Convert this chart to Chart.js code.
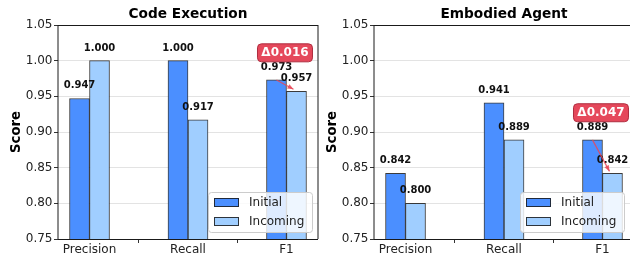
<!DOCTYPE html>
<html>
<head>
<meta charset="utf-8">
<script src="https://cdn.jsdelivr.net/npm/chart.js@4.4.1/dist/chart.umd.min.js"></script>
<style>
  html, body { margin: 0; padding: 0; background: #ffffff; }
  #wrap { position: relative; width: 630px; height: 260px; overflow: hidden; background: #ffffff; }
  canvas { position: absolute; top: 0; }
  #c1 { left: 0px; }
  #c2 { left: 316px; }
</style>
</head>
<body>
<div id="wrap">
  <canvas id="c1" width="320" height="260"></canvas>
  <canvas id="c2" width="320" height="260"></canvas>
</div>
<script>
// ---- data ----
const categories = ['Precision', 'Recall', 'F1'];
const seriesNames = ['Initial', 'Incoming'];
const codeInitial = [0.947, 1.000, 0.973];
const codeIncoming = [1.000, 0.917, 0.957];
const agentInitial = [0.842, 0.941, 0.889];
const agentIncoming = [0.800, 0.889, 0.842];
const yTicks = [0.75, 0.80, 0.85, 0.90, 0.95, 1.00, 1.05];
const titles = ['Code Execution', 'Embodied Agent'];
const yTitle = 'Score';
const annotateIndex = 2; // F1

// ---- style ----
const FONT = "'DejaVu Sans', 'Liberation Sans', sans-serif";
const C_INIT = 'rgb(75,143,255)';
const C_INC = 'rgb(160,206,255)';
const C_EDGE = 'rgba(25,25,25,0.85)';

Chart.defaults.font.family = FONT;
Chart.defaults.color = '#222';

function roundRectPath(ctx, x, y, w, h, r) {
  ctx.beginPath();
  ctx.moveTo(x + r, y);
  ctx.lineTo(x + w - r, y);
  ctx.quadraticCurveTo(x + w, y, x + w, y + r);
  ctx.lineTo(x + w, y + h - r);
  ctx.quadraticCurveTo(x + w, y + h, x + w - r, y + h);
  ctx.lineTo(x + r, y + h);
  ctx.quadraticCurveTo(x, y + h, x, y + h - r);
  ctx.lineTo(x, y + r);
  ctx.quadraticCurveTo(x, y, x + r, y);
  ctx.closePath();
}

const decor = {
  id: 'decor',
  afterDatasetsDraw(chart, args, opts) {
    const ctx = chart.ctx;
    const a = chart.chartArea;
    const ys = chart.scales.y;
    ctx.save();
    // spines
    ctx.strokeStyle = '#1a1a1a';
    ctx.lineWidth = 1;
    ctx.beginPath();
    ctx.moveTo(a.left, a.top + 0.5); ctx.lineTo(a.right, a.top + 0.5);
    ctx.moveTo(a.left, a.bottom + 0.5); ctx.lineTo(a.right, a.bottom + 0.5);
    ctx.moveTo(a.left, a.top); ctx.lineTo(a.left, a.bottom);
    ctx.moveTo(a.right, a.top); ctx.lineTo(a.right, a.bottom);
    ctx.stroke();

    // title
    ctx.fillStyle = '#000';
    ctx.font = "bold 13.7px " + FONT;
    ctx.textAlign = 'center';
    ctx.textBaseline = 'alphabetic';
    ctx.fillText(opts.title, (a.left + a.right) / 2, 17.5);

    // y title
    ctx.save();
    ctx.translate(a.left - 38.5, (a.top + a.bottom) / 2);
    ctx.rotate(-Math.PI / 2);
    ctx.font = "bold 13.2px " + FONT;
    ctx.fillText(yTitle, 0, 0);
    ctx.restore();

    // value labels
    ctx.font = "bold 10px " + FONT;
    ctx.fillStyle = '#111';
    chart.data.datasets.forEach((ds, di) => {
      const meta = chart.getDatasetMeta(di);
      meta.data.forEach((el, i) => {
        ctx.fillText(ds.data[i].y.toFixed(3), el.x, el.y - 10);
      });
    });

    // legend
    const lw = 104, lh = 40;
    const lx = a.right - opts.legendPad - lw;
    const ly = a.bottom - 47;
    ctx.fillStyle = 'rgba(255,255,255,0.82)';
    ctx.strokeStyle = '#cccccc';
    ctx.lineWidth = 1;
    roundRectPath(ctx, lx + 0.5, ly + 0.5, lw, lh, 3);
    ctx.fill();
    ctx.stroke();
    const cols = [C_INIT, C_INC];
    seriesNames.forEach((name, k) => {
      const py = ly + 6 + k * 19;
      ctx.fillStyle = cols[k];
      ctx.fillRect(lx + 6, py, 25, 9);
      ctx.strokeStyle = C_EDGE;
      ctx.strokeRect(lx + 6.5, py + 0.5, 24, 8);
      ctx.fillStyle = '#222';
      ctx.font = "12px " + FONT;
      ctx.textAlign = 'left';
      ctx.textBaseline = 'middle';
      ctx.fillText(name, lx + 41, py + 5);
    });

    // delta annotation
    const m0 = chart.getDatasetMeta(0).data[annotateIndex];
    const m1 = chart.getDatasetMeta(1).data[annotateIndex];
    const v0 = chart.data.datasets[0].data[annotateIndex].y;
    const v1 = chart.data.datasets[1].data[annotateIndex].y;
    const delta = v0 - v1;
    // arrow
    const x0 = m0.x, y0 = m0.y, x1 = m1.x - 3, y1 = m1.y - 2;
    ctx.strokeStyle = 'rgba(232,72,88,0.85)';
    ctx.fillStyle = 'rgba(232,72,88,0.85)';
    ctx.lineWidth = 1.2;
    ctx.beginPath();
    ctx.moveTo(x0, y0); ctx.lineTo(x1, y1);
    ctx.stroke();
    const ang = Math.atan2(y1 - y0, x1 - x0);
    ctx.beginPath();
    ctx.moveTo(x1, y1);
    ctx.lineTo(x1 - 6 * Math.cos(ang) + 2.5 * Math.sin(ang), y1 - 6 * Math.sin(ang) - 2.5 * Math.cos(ang));
    ctx.lineTo(x1 - 6 * Math.cos(ang) - 2.5 * Math.sin(ang), y1 - 6 * Math.sin(ang) + 2.5 * Math.cos(ang));
    ctx.closePath();
    ctx.fill();
    // box
    const cx = (m0.x + m1.x) / 2 - 1.5;
    const cy = ys.getPixelForValue(Math.max(v0, v1) + 0.038);
    const bw = 55, bh = 18;
    ctx.fillStyle = '#E5485B';
    ctx.strokeStyle = '#B02E40';
    ctx.lineWidth = 1;
    roundRectPath(ctx, cx - bw / 2, cy - bh / 2, bw, bh, 4);
    ctx.fill();
    ctx.stroke();
    ctx.fillStyle = '#ffffff';
    ctx.font = "bold 12px " + FONT;
    ctx.textAlign = 'center';
    ctx.textBaseline = 'middle';
    ctx.fillText('\u0394' + Math.abs(delta).toFixed(3), cx, cy + 0.5);
    ctx.restore();
  }
};

function makeChart(id, title, initial, incoming, legendPad) {
  const toPts = arr => arr.map((v, i) => ({ x: i, y: v }));
  return new Chart(document.getElementById(id), {
    type: 'bar',
    data: {
      datasets: [
        { label: seriesNames[0], data: toPts(initial), backgroundColor: C_INIT, borderColor: C_EDGE, borderWidth: 1, barThickness: 20 },
        { label: seriesNames[1], data: toPts(incoming), backgroundColor: C_INC, borderColor: C_EDGE, borderWidth: 1, barThickness: 20 }
      ]
    },
    options: {
      responsive: false,
      animation: false,
      devicePixelRatio: 1,
      layout: { padding: { top: 25, right: 2, left: 0, bottom: 0 } },
      plugins: {
        legend: { display: false },
        tooltip: { enabled: false },
        decor: { title: title, legendPad: legendPad }
      },
      scales: {
        x: {
          type: 'linear',
          min: -0.32, max: 2.32,
          offset: false,
          afterBuildTicks: s => { s.ticks = categories.map((c, i) => ({ value: i })); },
          afterFit: s => { s.height = 21; },
          ticks: {
            autoSkip: false, maxRotation: 0, padding: 0,
            font: { size: 12 }, color: '#222',
            callback: (v) => categories[Math.round(v)]
          },
          grid: { drawOnChartArea: false, drawTicks: true, tickLength: 4, tickColor: '#333', tickWidth: 1 },
          border: { display: false }
        },
        y: {
          min: 0.75, max: 1.05,
          afterBuildTicks: s => { s.ticks = yTicks.map(v => ({ value: v })); },
          afterFit: s => { s.width = 58; },
          ticks: { padding: 1.5, font: { size: 12 }, color: '#222', callback: v => Number(v).toFixed(2) },
          grid: { color: '#dcdcdc', lineWidth: 0.8, borderDash: [1.5, 2], tickBorderDash: [], tickColor: '#333', tickWidth: 1, tickLength: 4 },
          border: { display: false }
        }
      }
    },
    plugins: [decor]
  });
}

makeChart('c1', titles[0], codeInitial, codeIncoming, 6);
makeChart('c2', titles[1], agentInitial, agentIncoming, 10);
</script>
</body>
</html>
